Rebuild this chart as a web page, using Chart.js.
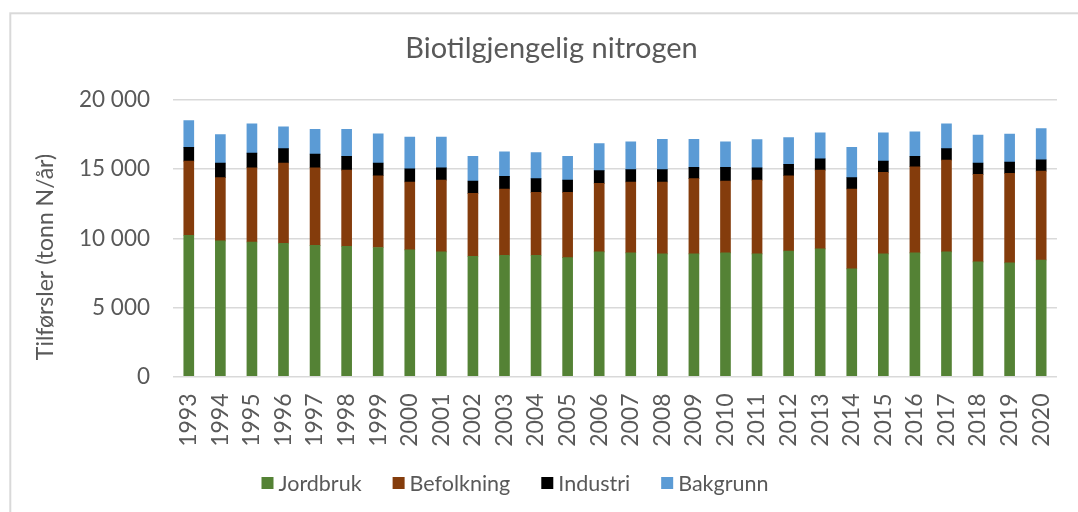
<!DOCTYPE html>
<html>
<head>
<meta charset="utf-8">
<title>Biotilgjengelig nitrogen</title>
<script src="https://cdn.jsdelivr.net/npm/chart.js@4.4.1/dist/chart.umd.min.js"></script>
<style>
  html, body { margin: 0; padding: 0; background: #ffffff; }
  #wrap { position: relative; width: 1078px; height: 512px; }
</style>
</head>
<body>
<div id="wrap"><canvas id="chart" width="1078" height="512"></canvas></div>
<script>
// Tilførsler av biotilgjengelig nitrogen per kilde (tonn N/år)
const years = ['1993','1994','1995','1996','1997','1998','1999','2000','2001','2002',
  '2003','2004','2005','2006','2007','2008','2009','2010','2011','2012',
  '2013','2014','2015','2016','2017','2018','2019','2020'];

const jordbruk = [10220, 9810, 9730, 9640, 9490, 9420, 9330, 9160, 9010, 8700,
  8770, 8770, 8600, 9010, 8940, 8870, 8870, 8940, 8870, 9080,
  9230, 7780, 8870, 8940, 9010, 8290, 8220, 8430];

const befolkning = [5360, 4570, 5370, 5800, 5610, 5510, 5190, 4910, 5200, 4550,
  4790, 4550, 4720, 4960, 5130, 5200, 5440, 5200, 5340, 5440,
  5700, 5780, 5900, 6230, 6640, 6330, 6470, 6430];

const industri = [990, 1060, 1060, 1040, 990, 990, 920, 960, 890, 890,
  920, 990, 890, 920, 890, 890, 820, 990, 890, 820,
  820, 820, 810, 750, 830, 820, 820, 820];

const bakgrunn = [1950, 2050, 2120, 1580, 1780, 1950, 2120, 2280, 2210, 1780,
  1780, 1880, 1710, 1950, 2020, 2190, 2020, 1850, 2030, 1950,
  1880, 2190, 2050, 1780, 1800, 2020, 2020, 2260];

const yTicks = [0, 5000, 10000, 15000, 20000];

const FONT = 'Lato, "Open Sans", "Noto Sans", sans-serif';
const TEXT = '#595959';

// thousands separated by a space: 15 000
function fmt(v) {
  return String(v).replace(/\B(?=(\d{3})+(?!\d))/g, ' ');
}

// light frame around the chart
const framePlugin = {
  id: 'frame',
  beforeDraw(chart) {
    const ctx = chart.ctx;
    ctx.save();
    ctx.fillStyle = '#ffffff';
    ctx.fillRect(0, 0, chart.width, chart.height);
    ctx.strokeStyle = '#d9d9d9';
    ctx.lineWidth = 2;
    ctx.strokeRect(10.3, 13.3, 2000, 2000);
    ctx.restore();
  }
};

// rotated y-axis title and a legend row under the axis labels
const textPlugin = {
  id: 'extraText',
  afterDraw(chart) {
    const ctx = chart.ctx;
    ctx.save();
    ctx.fillStyle = TEXT;
    ctx.font = '23px ' + FONT;
    ctx.textAlign = 'center';
    ctx.textBaseline = 'middle';
    ctx.translate(46, 257);
    ctx.rotate(-Math.PI / 2);
    ctx.fillText('Tilførsler (tonn N/år)', 0, 0);
    ctx.restore();

    ctx.save();
    ctx.font = '21.5px ' + FONT;
    ctx.textBaseline = 'middle';
    const box = 12, boxGap = 5, itemGap = 31;
    const items = chart.data.datasets.map(d => ({
      label: d.label, color: d.backgroundColor,
      w: box + boxGap + ctx.measureText(d.label).width
    }));
    const total = items.reduce((s, it) => s + it.w, 0) + itemGap * (items.length - 1);
    let x = 515 - total / 2;
    const y = 483;
    items.forEach(it => {
      ctx.fillStyle = it.color;
      ctx.fillRect(x, y - box / 2, box, box);
      ctx.fillStyle = TEXT;
      ctx.textAlign = 'left';
      ctx.fillText(it.label, x + box + boxGap, y + 1);
      x += it.w + itemGap;
    });
    ctx.restore();
  }
};

new Chart(document.getElementById('chart'), {
  type: 'bar',
  data: {
    labels: years,
    datasets: [
      { label: 'Jordbruk',   data: jordbruk,   backgroundColor: '#548235' },
      { label: 'Befolkning', data: befolkning, backgroundColor: '#843c0c' },
      { label: 'Industri',   data: industri,   backgroundColor: '#000000' },
      { label: 'Bakgrunn',   data: bakgrunn,   backgroundColor: '#5b9bd5' }
    ]
  },
  options: {
    responsive: false,
    animation: false,
    devicePixelRatio: 1,
    layout: { padding: { left: 37, right: 12, top: 0, bottom: 45.5 } },
    datasets: { bar: { barThickness: 10, borderWidth: 0 } },
    plugins: {
      legend: { display: false },
      tooltip: { enabled: false },
      title: {
        display: true,
        text: 'Biotilgjengelig nitrogen',
        color: TEXT,
        font: { family: FONT, size: 29, weight: 'normal', lineHeight: 1.2 },
        padding: { top: 31, bottom: 34.2 }
      }
    },
    scales: {
      x: {
        stacked: true,
        grid: { display: false },
        border: { display: false },
        ticks: {
          color: TEXT,
          font: { family: FONT, size: 23 },
          minRotation: 90,
          maxRotation: 90,
          autoSkip: false,
          padding: 9
        },
        afterFit(scale) { scale.height = 90; }
      },
      y: {
        stacked: true,
        min: 0,
        max: 20000,
        afterBuildTicks(scale) { scale.ticks = yTicks.map(v => ({ value: v })); },
        grid: { color: '#d9d9d9', lineWidth: 1.5, drawTicks: false },
        border: { display: false },
        ticks: {
          color: TEXT,
          font: { family: FONT, size: 22.5 },
          padding: 23,
          callback: v => fmt(v)
        },
        afterFit(scale) { scale.width = 136; }
      }
    }
  },
  plugins: [framePlugin, textPlugin]
});
</script>
</body>
</html>
